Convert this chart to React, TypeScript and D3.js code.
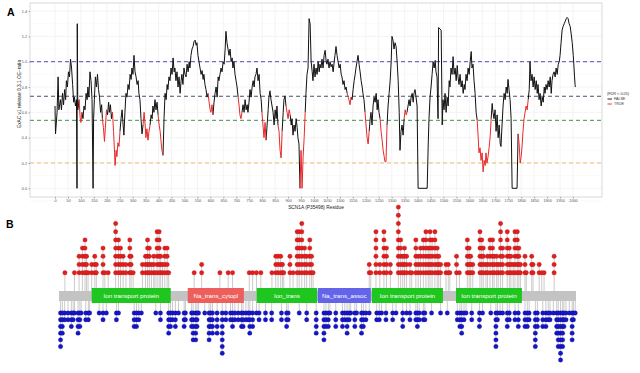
import React, { useEffect, useRef } from 'react';
import * as d3 from 'd3';

// ExAC OE ratio along SCN1A: [residue, oe]
const oeProfile: [number, number][] = [
    [0, 0.65], [2, 0.43], [8, 0.6], [12, 0.88], [15, 0.62], [21, 0.7], [25, 0.62], [29, 0.75], [33, 0.66], [37, 0.78],
    [41, 0.7], [44, 0.85], [48, 0.8], [52, 0.92], [56, 0.88], [60, 1.02], [64, 0.95], [68, 0.82], [72, 0.68], [75, 0.72],
    [79, 0.65], [83, 0.7], [85, 0.0], [86, 1.3], [88, 0.62], [93, 0.7], [97, 0.56], [100, 0.52], [104, 0.6], [108, 0.55],
    [112, 0.65], [116, 0.62], [120, 0.75], [124, 0.7], [127, 0.8], [131, 0.72], [135, 0.92], [139, 0.85], [143, 0.7], [147, 0.0],
    [149, 0.55], [152, 0.7], [156, 0.88], [160, 0.8], [164, 0.9], [168, 0.78], [172, 0.72], [176, 0.6], [180, 0.66], [183, 0.55],
    [187, 0.48], [191, 0.37], [195, 0.5], [199, 0.62], [203, 0.58], [207, 0.68], [210, 0.6], [214, 0.66], [218, 0.55], [222, 0.6],
    [226, 0.45], [230, 0.28], [232, 0.18], [236, 0.3], [239, 0.25], [243, 0.36], [247, 0.33], [251, 0.45], [255, 0.55], [259, 0.62],
    [263, 0.5], [266, 0.42], [270, 0.6], [274, 0.75], [278, 0.72], [282, 0.82], [286, 0.78], [290, 0.9], [294, 0.86], [297, 0.95],
    [301, 0.9], [305, 1.05], [309, 0.92], [313, 0.88], [317, 0.82], [321, 0.85], [324, 0.75], [328, 0.7], [332, 0.55], [336, 0.43],
    [340, 0.5], [344, 0.6], [348, 0.5], [351, 0.4], [355, 0.47], [359, 0.38], [363, 0.45], [367, 0.5], [371, 0.58], [375, 0.55],
    [378, 0.65], [382, 0.6], [386, 0.7], [390, 0.62], [394, 0.68], [398, 0.58], [402, 0.5], [406, 0.45], [409, 0.38], [413, 0.3],
    [417, 0.26], [421, 0.55], [425, 0.75], [429, 0.7], [433, 0.82], [436, 0.78], [440, 0.88], [444, 0.85], [448, 0.95], [452, 0.9],
    [456, 1.03], [460, 0.92], [463, 0.95], [467, 0.85], [471, 0.92], [475, 0.8], [479, 0.88], [483, 0.75], [487, 0.85], [490, 0.9],
    [494, 0.82], [498, 0.95], [502, 0.9], [506, 0.88], [510, 0.98], [514, 0.92], [518, 1.0], [521, 0.95], [525, 1.05], [529, 1.1],
    [533, 1.12], [537, 1.16], [541, 1.17], [545, 1.13], [548, 1.15], [552, 1.05], [556, 1.0], [560, 0.95], [564, 0.9], [568, 0.93],
    [572, 0.86], [575, 0.9], [579, 0.82], [583, 0.78], [587, 0.72], [591, 0.75], [595, 0.68], [599, 0.62], [602, 0.6], [606, 0.66],
    [610, 0.58], [614, 0.68], [618, 0.75], [622, 0.8], [626, 0.72], [630, 0.88], [633, 0.85], [637, 0.9], [641, 0.95], [645, 0.92],
    [649, 1.0], [653, 0.98], [657, 1.1], [660, 1.24], [664, 1.15], [668, 1.1], [672, 1.05], [676, 1.1], [680, 1.0], [684, 1.03],
    [687, 0.95], [691, 1.0], [695, 0.9], [699, 0.85], [703, 0.8], [707, 0.72], [711, 0.65], [714, 0.58], [718, 0.55], [722, 0.6],
    [726, 0.66], [730, 0.6], [734, 0.7], [738, 0.62], [742, 0.66], [745, 0.6], [749, 0.68], [753, 0.78], [757, 0.72], [761, 0.8],
    [765, 0.85], [769, 0.8], [772, 0.88], [776, 0.9], [780, 0.95], [784, 0.85], [788, 0.9], [792, 0.75], [796, 0.7], [799, 0.6],
    [803, 0.5], [807, 0.4], [811, 0.52], [815, 0.38], [819, 0.5], [823, 0.62], [826, 0.72], [830, 0.77], [834, 0.7], [838, 0.65],
    [842, 0.6], [846, 0.5], [850, 0.62], [854, 0.55], [857, 0.65], [861, 0.5], [865, 0.45], [869, 0.3], [873, 0.24], [877, 0.45],
    [881, 0.6], [884, 0.7], [888, 0.73], [892, 0.65], [896, 0.6], [900, 0.55], [904, 0.62], [908, 0.58], [912, 0.5], [915, 0.55],
    [919, 0.42], [923, 0.5], [927, 0.45], [931, 0.55], [935, 0.48], [938, 0.4], [942, 0.35], [946, 0.0], [950, 0.3], [954, 0.0],
    [958, 0.25], [962, 0.4], [966, 0.6], [969, 0.75], [973, 0.9], [977, 0.95], [981, 1.34], [985, 1.3], [989, 1.0], [993, 0.92],
    [996, 0.85], [1000, 0.98], [1004, 0.88], [1008, 0.95], [1012, 0.9], [1016, 1.0], [1020, 0.92], [1023, 0.98], [1027, 0.95], [1031, 1.02],
    [1035, 0.95], [1039, 1.05], [1043, 1.09], [1047, 1.0], [1050, 0.98], [1054, 1.02], [1058, 0.95], [1062, 1.0], [1066, 0.96], [1070, 0.98],
    [1074, 0.92], [1078, 1.0], [1081, 1.05], [1085, 1.12], [1089, 1.05], [1093, 1.0], [1097, 0.95], [1101, 0.98], [1105, 0.9], [1108, 0.88],
    [1112, 0.82], [1116, 0.85], [1120, 0.78], [1124, 0.8], [1128, 0.75], [1132, 0.72], [1135, 0.7], [1139, 0.66], [1143, 0.72], [1147, 0.7],
    [1151, 0.78], [1155, 0.85], [1159, 0.9], [1162, 0.95], [1166, 1.0], [1170, 1.05], [1174, 0.98], [1178, 0.92], [1182, 0.85], [1186, 0.8],
    [1189, 0.75], [1193, 0.7], [1197, 0.6], [1201, 0.5], [1205, 0.4], [1209, 0.35], [1213, 0.45], [1217, 0.55], [1220, 0.6], [1224, 0.5],
    [1228, 0.65], [1232, 0.72], [1236, 0.68], [1240, 0.75], [1244, 0.62], [1247, 0.7], [1251, 0.6], [1255, 0.55], [1259, 0.45], [1263, 0.38],
    [1267, 0.3], [1271, 0.25], [1274, 0.21], [1278, 0.21], [1282, 0.5], [1286, 0.65], [1290, 0.75], [1294, 0.85], [1298, 1.0], [1301, 1.2],
    [1305, 1.17], [1309, 1.1], [1313, 1.15], [1317, 1.12], [1321, 1.0], [1325, 0.85], [1329, 0.6], [1332, 0.3], [1336, 0.45], [1340, 0.5],
    [1344, 0.42], [1348, 0.55], [1352, 0.62], [1356, 0.58], [1359, 0.6], [1363, 0.65], [1367, 0.7], [1371, 0.65], [1375, 0.72], [1379, 0.75],
    [1383, 0.68], [1386, 0.75], [1390, 0.78], [1394, 0.72], [1398, 0.65], [1402, 0.0], [1437, 0.0], [1441, 0.35], [1444, 0.55], [1448, 0.72],
    [1452, 0.8], [1456, 0.9], [1460, 1.0], [1464, 0.95], [1468, 1.01], [1471, 0.92], [1475, 0.88], [1479, 0.55], [1481, 1.27], [1491, 1.25],
    [1495, 0.5], [1498, 0.7], [1502, 0.62], [1506, 0.75], [1510, 0.6], [1514, 0.72], [1518, 0.65], [1522, 0.85], [1525, 0.8], [1529, 0.95],
    [1533, 0.9], [1537, 1.04], [1541, 0.9], [1545, 0.95], [1549, 0.85], [1553, 0.97], [1556, 0.88], [1560, 0.82], [1564, 0.9], [1568, 0.8],
    [1572, 0.85], [1576, 0.75], [1580, 0.82], [1583, 0.78], [1587, 0.9], [1591, 0.85], [1595, 0.95], [1599, 0.9], [1603, 1.0], [1607, 1.08],
    [1610, 0.95], [1614, 0.98], [1618, 0.85], [1622, 0.75], [1626, 0.6], [1630, 0.54], [1634, 0.4], [1637, 0.28], [1641, 0.32], [1645, 0.22],
    [1649, 0.28], [1653, 0.13], [1657, 0.22], [1661, 0.18], [1664, 0.28], [1668, 0.2], [1672, 0.25], [1676, 0.32], [1680, 0.4], [1684, 0.55],
    [1688, 0.67], [1691, 0.6], [1695, 0.55], [1699, 0.62], [1703, 0.45], [1707, 0.58], [1711, 0.4], [1715, 0.5], [1719, 0.35], [1722, 0.33],
    [1726, 0.5], [1730, 0.65], [1734, 0.75], [1738, 0.7], [1742, 0.8], [1746, 0.75], [1749, 0.86], [1753, 0.78], [1757, 0.7], [1761, 0.55],
    [1765, 0.0], [1784, 0.0], [1788, 0.43], [1792, 0.35], [1796, 0.2], [1800, 0.25], [1804, 0.35], [1807, 0.45], [1811, 0.55], [1815, 0.6],
    [1819, 0.65], [1823, 0.62], [1827, 0.7], [1831, 0.78], [1834, 1.0], [1838, 0.85], [1842, 0.9], [1846, 0.8], [1850, 0.88], [1854, 0.78],
    [1858, 0.85], [1862, 0.75], [1865, 0.82], [1869, 0.7], [1873, 0.75], [1877, 0.65], [1881, 0.72], [1885, 0.68], [1889, 0.8], [1892, 0.75],
    [1896, 0.82], [1900, 0.78], [1904, 0.85], [1908, 0.8], [1912, 0.88], [1916, 0.75], [1919, 0.85], [1923, 0.9], [1927, 0.92], [1931, 0.88],
    [1935, 0.95], [1939, 0.9], [1943, 0.98], [1947, 1.0], [1950, 1.05], [1954, 1.15], [1958, 1.25], [1962, 1.28], [1966, 1.3], [1970, 1.32],
    [1974, 1.34], [1977, 1.35], [1981, 1.34], [1985, 1.3], [1989, 1.28], [1993, 1.22], [1997, 1.15], [2001, 1.05], [2004, 0.95], [2006, 0.88],
    [2008, 0.82], [2009, 0.8]
];

// residue windows flagged FDR < 0.05
const sigWindows: [number, number][] = [
    [94, 105], [184, 198], [222, 252], [342, 368], [400, 418], [593, 611], [709, 723], [800, 816], [863, 878],
    [892, 906], [948, 964], [1130, 1144], [1197, 1214], [1255, 1280], [1350, 1360], [1630, 1682], [1789, 1825]
];

const cutoffValues = [1.0, 0.727, 0.537, 0.2];
const yTickValues = [0, 0.2, 0.4, 0.6, 0.8, 1.0, 1.2, 1.4];
const legendLabels = ['FALSE', 'TRUE'];

// Pfam domains
const domainNames = ['Ion transport protein', 'Na_trans_cytopl', 'Ion_trans', 'Na_trans_assoc', 'Ion transport protein', 'Ion transport protein'];
const domainStart = [128, 501, 769, 1006, 1216, 1543];
const domainEnd = [435, 719, 1003, 1212, 1492, 1799];

// [residue, number of variants] – patient variants (above)
const patientVariants: [number, number][] = [
    [24, 1], [61, 1], [79, 3], [92, 4], [102, 5], [108, 3], [114, 1], [128, 2], [140, 3], [146, 2],
    [172, 4], [179, 1], [192, 1], [221, 7], [232, 5], [240, 4], [250, 3], [261, 2], [276, 5], [281, 3],
    [289, 1], [325, 2], [337, 3], [345, 5], [352, 4], [360, 2], [369, 3], [374, 1], [382, 6], [390, 6], [396, 3],
    [403, 2], [412, 4], [421, 4], [427, 1], [526, 1], [555, 2], [626, 1], [658, 1], [675, 1], [740, 1], [753, 1],
    [768, 1], [785, 1], [828, 1], [843, 3], [852, 3], [862, 3], [869, 2], [874, 1], [898, 3], [910, 1], [926, 6],
    [934, 6], [944, 7], [955, 4], [963, 3], [975, 5], [982, 3], [988, 1], [1206, 2], [1212, 1], [1232, 6], [1247, 2],
    [1263, 6], [1273, 4], [1288, 2], [1319, 9], [1328, 5], [1336, 3], [1343, 4], [1351, 3], [1364, 2],
    [1371, 1], [1387, 5], [1396, 3], [1405, 4], [1416, 5], [1426, 6], [1435, 4], [1442, 6], [1450, 5], [1461, 6],
    [1470, 4], [1476, 3], [1483, 2], [1504, 2], [1513, 2], [1519, 1], [1545, 3], [1556, 1], [1587, 5],
    [1594, 4], [1600, 3], [1608, 2], [1636, 6], [1643, 5], [1649, 4], [1659, 2], [1665, 3], [1675, 5],
    [1685, 5], [1691, 3], [1701, 3], [1707, 2], [1716, 7], [1724, 4], [1742, 6], [1750, 4], [1756, 3],
    [1765, 2], [1772, 6], [1781, 6], [1787, 4], [1793, 2], [1811, 3], [1816, 1], [1837, 3], [1842, 2],
    [1866, 2], [1876, 1], [1885, 1], [1924, 3]
];

// [residue, number of variants] – population variants (below)
const populationVariants: [number, number][] = [
    [7, 6], [14, 4], [23, 2], [36, 2], [49, 3], [56, 2], [61, 1], [75, 4], [82, 3], [87, 1], [105, 2], [115, 2],
    [120, 1], [157, 1], [172, 2], [185, 1], [224, 2], [232, 1], [293, 3], [302, 3], [311, 2], [321, 1], [377, 1],
    [395, 2], [427, 4], [434, 3], [442, 2], [453, 3], [465, 1], [487, 3], [492, 2], [516, 3],
    [522, 5], [532, 5], [537, 3], [543, 1], [567, 1], [584, 5], [590, 3], [597, 4], [615, 4], [635, 7], [649, 2],
    [667, 2], [675, 3], [684, 2], [697, 2], [710, 3], [716, 3], [727, 2], [736, 2], [742, 4], [753, 3],
    [768, 1], [778, 2], [803, 2], [827, 2], [865, 2], [885, 3], [891, 2],
    [934, 1], [963, 2], [1000, 4], [1030, 5], [1038, 3], [1047, 3], [1053, 1], [1076, 3],
    [1102, 3], [1111, 2], [1120, 4], [1128, 2], [1134, 1], [1150, 3], [1157, 1], [1176, 4], [1183, 3],
    [1193, 2], [1206, 1], [1235, 2], [1245, 2], [1254, 1], [1271, 2], [1297, 2], [1310, 1], [1336, 3], [1351, 1],
    [1364, 2], [1387, 2], [1393, 3], [1400, 2], [1416, 2], [1422, 2], [1448, 1], [1483, 1], [1509, 1],
    [1548, 2], [1558, 3], [1565, 4], [1574, 2], [1582, 1], [1604, 2], [1634, 3], [1646, 1],
    [1678, 1], [1698, 6], [1704, 2], [1714, 1], [1724, 1], [1742, 3], [1750, 2], [1772, 2], [1785, 3],
    [1811, 3], [1820, 3], [1827, 2], [1851, 6], [1859, 3], [1880, 3], [1892, 3],
    [1901, 2], [1908, 2], [1921, 1], [1934, 4], [1940, 6], [1949, 8], [1957, 6], [1962, 3], [1970, 2], [1983, 1],
    [1994, 5], [1999, 2], [2006, 1]
];

const FONT = "'Liberation Sans', Arial, Helvetica, sans-serif";
const RED = '#e8292b';

export default function App() {
    const svgRef = useRef<SVGSVGElement>(null);

    useEffect(() => {
        if (!svgRef.current) return;
        const svg = d3.select(svgRef.current);
        svg.selectAll('*').remove();

        // ---------- Panel A ----------
        const panel = { left: 30, right: 602, top: 3, bottom: 197 };
        const x = d3.scaleLinear().domain([0, 2000]).range([55, 573]);
        const y = d3.scaleLinear().domain([0, 1]).range([188.3, 61.7]);
        const xTicks = d3.range(0, 2001, 50);

        const gA = svg.append('g');
        gA.append('rect')
            .attr('x', panel.left).attr('y', panel.top)
            .attr('width', panel.right - panel.left).attr('height', panel.bottom - panel.top)
            .attr('fill', '#fff');

        // grid
        const minorY = d3.range(-0.1, 1.5, 0.2);
        gA.selectAll('.gminor').data(minorY).join('line')
            .attr('x1', panel.left).attr('x2', panel.right)
            .attr('y1', d => y(d)).attr('y2', d => y(d))
            .attr('stroke', '#f4f4f4').attr('stroke-width', 0.5);
        gA.selectAll('.gy').data(yTickValues).join('line')
            .attr('x1', panel.left).attr('x2', panel.right)
            .attr('y1', d => y(d)).attr('y2', d => y(d))
            .attr('stroke', '#ececec').attr('stroke-width', 0.6);
        gA.selectAll('.gx').data(xTicks).join('line')
            .attr('x1', d => x(d)).attr('x2', d => x(d))
            .attr('y1', panel.top).attr('y2', panel.bottom)
            .attr('stroke', '#ececec').attr('stroke-width', 0.6);

        gA.append('rect')
            .attr('x', panel.left).attr('y', panel.top)
            .attr('width', panel.right - panel.left).attr('height', panel.bottom - panel.top)
            .attr('fill', 'none').attr('stroke', '#cfcfcf').attr('stroke-width', 0.8);

        // cutoff lines
        const cutoffColors = ['#3d3db8', '#3b3b5e', '#2f7f3c', '#f2b455'];
        cutoffValues.forEach((v, i) => {
            gA.append('line')
                .attr('x1', panel.left).attr('x2', panel.right)
                .attr('y1', y(v)).attr('y2', y(v))
                .attr('stroke', cutoffColors[i])
                .attr('stroke-width', 0.9)
                .attr('stroke-dasharray', '4,3');
        });

        // OE line split into significant / non-significant runs
        const isSig = (r: number) => sigWindows.some(([a, b]) => r >= a && r <= b);
        const runs: { sig: boolean; pts: [number, number][] }[] = [];
        for (let i = 0; i < oeProfile.length - 1; i++) {
            const p0 = oeProfile[i];
            const p1 = oeProfile[i + 1];
            const s = isSig((p0[0] + p1[0]) / 2);
            const last = runs[runs.length - 1];
            if (last && last.sig === s) last.pts.push(p1);
            else runs.push({ sig: s, pts: [p0, p1] });
        }
        const line = d3.line<[number, number]>().x(d => x(d[0])).y(d => y(d[1]));
        const sorted = [...runs.filter(r => !r.sig), ...runs.filter(r => r.sig)];
        gA.selectAll('.oe').data(sorted).join('path')
            .attr('d', d => line(d.pts))
            .attr('fill', 'none')
            .attr('stroke', d => (d.sig ? RED : '#111'))
            .attr('stroke-width', 1)
            .attr('stroke-linejoin', 'round');

        // axes
        const xAxis = gA.append('g')
            .attr('transform', `translate(0,${panel.bottom})`)
            .call(d3.axisBottom(x).tickValues(xTicks).tickSize(1.5).tickPadding(1).tickFormat(d3.format('d')));
        xAxis.select('.domain').remove();
        xAxis.selectAll('line').attr('stroke', '#555').attr('stroke-width', 0.5);
        xAxis.selectAll('text').attr('font-size', 3.8).attr('fill', '#555').attr('font-family', FONT);

        const yAxis = gA.append('g')
            .attr('transform', `translate(${panel.left},0)`)
            .call(d3.axisLeft(y).tickValues(yTickValues).tickSize(1.5).tickPadding(1.5).tickFormat(d3.format('.1f')));
        yAxis.select('.domain').remove();
        yAxis.selectAll('line').attr('stroke', '#555').attr('stroke-width', 0.5);
        yAxis.selectAll('text').attr('font-size', 3.8).attr('fill', '#555').attr('font-family', FONT);

        gA.append('text')
            .attr('x', (panel.left + panel.right) / 2).attr('y', 208.5)
            .attr('text-anchor', 'middle').attr('font-size', 4.8).attr('fill', '#222')
            .attr('font-family', FONT)
            .text('SCN1A (P35498) Residue');

        gA.append('text')
            .attr('transform', 'translate(20.5,94) rotate(-90)')
            .attr('text-anchor', 'middle').attr('font-size', 4.8).attr('fill', '#222')
            .attr('font-family', FONT)
            .text('ExAC v1 release 0.3.1 OE−ratio');

        // legend
        const lg = gA.append('g').attr('font-family', FONT).attr('fill', '#333');
        lg.append('text').attr('x', 607).attr('y', 94.5).attr('font-size', 3.8).text('(FDR < 0.05)');
        legendLabels.forEach((lab, i) => {
            const ly = 99 + i * 5;
            lg.append('line').attr('x1', 607.5).attr('x2', 612).attr('y1', ly).attr('y2', ly)
                .attr('stroke', i === 0 ? '#111' : RED).attr('stroke-width', 0.9);
            lg.append('text').attr('x', 614).attr('y', ly + 1.3).attr('font-size', 3.6).text(lab);
        });

        svg.append('text').attr('x', 7).attr('y', 15.5)
            .attr('font-size', 10.5).attr('font-weight', 'bold').attr('font-family', FONT).text('A');

        // ---------- Panel B ----------
        const xB = d3.scaleLinear().domain([1, 2009]).range([59, 576]);
        const yUp = d3.scaleLinear().domain([1, 9]).range([272.7, 207.1]);
        const yDown = d3.scaleLinear().domain([1, 8]).range([313, 360]);
        const bbTop = 291;
        const bbBottom = 301;

        const gB = svg.append('g');

        gB.selectAll('.stemUp').data(patientVariants).join('line')
            .attr('x1', d => xB(d[0])).attr('x2', d => xB(d[0]))
            .attr('y1', bbTop).attr('y2', d => yUp(d[1]))
            .attr('stroke', '#c4c4c4').attr('stroke-width', 0.9);
        gB.selectAll('.stemDown').data(populationVariants).join('line')
            .attr('x1', d => xB(d[0])).attr('x2', d => xB(d[0]))
            .attr('y1', bbBottom).attr('y2', d => yDown(d[1]))
            .attr('stroke', '#c4c4c4').attr('stroke-width', 0.9);

        gB.append('rect')
            .attr('x', xB(1)).attr('y', bbTop)
            .attr('width', xB(2009) - xB(1)).attr('height', bbBottom - bbTop)
            .attr('fill', '#c3c3c3');

        const domainColor = (name: string) =>
            name === 'Na_trans_cytopl' ? '#ec5f5c' : name === 'Na_trans_assoc' ? '#6464ea' : '#1fc61f';
        domainNames.forEach((name, i) => {
            const x0 = xB(domainStart[i]);
            const x1 = xB(domainEnd[i]);
            gB.append('rect')
                .attr('x', x0).attr('y', 288)
                .attr('width', x1 - x0).attr('height', 15)
                .attr('fill', domainColor(name));
            gB.append('text')
                .attr('x', (x0 + x1) / 2).attr('y', 297.8)
                .attr('text-anchor', 'middle')
                .attr('font-size', 6.2).attr('fill', '#fff')
                .attr('font-family', FONT)
                .text(name);
        });

        const upDots = patientVariants.flatMap(([r, n]) => d3.range(1, n + 1).map(k => [r, k] as [number, number]));
        const downDots = populationVariants.flatMap(([r, n]) => d3.range(1, n + 1).map(k => [r, k] as [number, number]));

        gB.selectAll('.dotUp').data(upDots).join('circle')
            .attr('cx', d => xB(d[0])).attr('cy', d => yUp(d[1]))
            .attr('r', 2.2)
            .attr('fill', '#e01f1f').attr('stroke', '#b81414').attr('stroke-width', 0.3);
        gB.selectAll('.dotDown').data(downDots).join('circle')
            .attr('cx', d => xB(d[0])).attr('cy', d => yDown(d[1]))
            .attr('r', 2.2)
            .attr('fill', '#1616c8').attr('stroke', '#0c0c96').attr('stroke-width', 0.3);

        svg.append('text').attr('x', 6).attr('y', 228)
            .attr('font-size', 10.5).attr('font-weight', 'bold').attr('font-family', FONT).text('B');
    }, []);

    return (
        <svg
            ref={svgRef}
            width={640}
            height={373}
            style={{ position: 'absolute', left: 0, top: 0, background: '#fff' }}
        />
    );
}
